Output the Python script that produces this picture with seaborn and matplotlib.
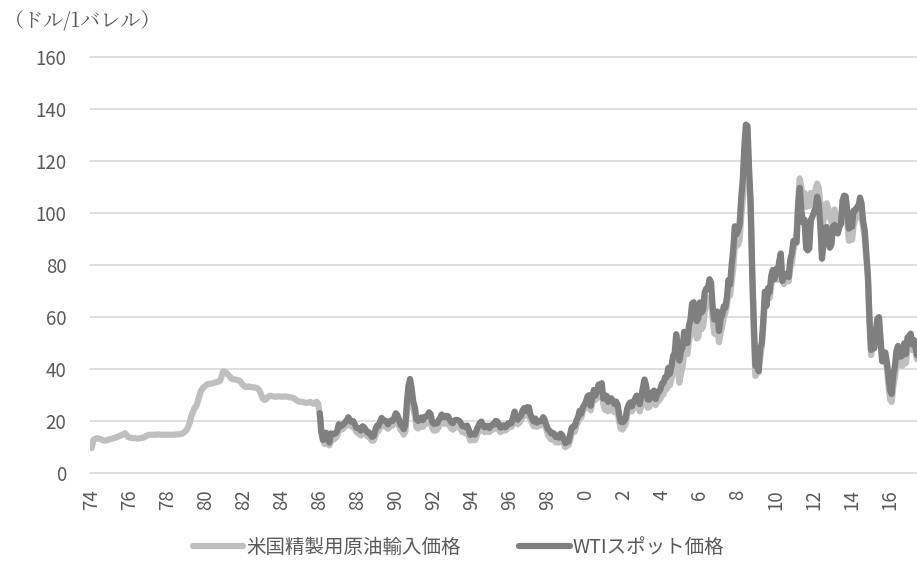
import numpy as np
import pandas as pd
import matplotlib
matplotlib.use("Agg")
import matplotlib.pyplot as plt
import seaborn as sns

# ---- data (monthly, US$/barrel) ----
series_names = ["米国精製用原油輸入価格", "WTIスポット価格"]
unit_label = "（ドル/1バレル）"

# US refiner acquisition cost of imported crude, Jan 1974 - Jun 2017
imported_rows = [
    [9.5, 12.5, 13.0, 13.2, 13.2, 13.0, 12.8, 12.5, 12.3, 12.4, 12.6, 12.8],  # 1974
    [13.0, 13.1, 13.3, 13.5, 13.7, 14.0, 14.2, 14.5, 14.8, 15.2, 14.5, 13.7],  # 1975
    [13.5, 13.4, 13.3, 13.3, 13.2, 13.1, 13.2, 13.3, 13.4, 13.6, 14.0, 14.3],  # 1976
    [14.5, 14.6, 14.6, 14.6, 14.6, 14.6, 14.7, 14.7, 14.6, 14.6, 14.6, 14.6],  # 1977
    [14.6, 14.6, 14.6, 14.6, 14.6, 14.7, 14.7, 14.8, 14.9, 15.0, 15.3, 15.9],  # 1978
    [16.5, 17.8, 19.5, 22.0, 23.5, 25.0, 25.5, 27.5, 29.5, 31.5, 32.5, 33.0],  # 1979
    [33.5, 34.0, 34.2, 34.2, 34.3, 34.5, 34.7, 34.8, 35.0, 35.3, 37.0, 39.0],  # 1980
    [38.8, 38.4, 37.8, 37.0, 36.3, 36.0, 35.9, 35.8, 35.6, 35.5, 35.0, 34.0],  # 1981
    [33.5, 33.0, 33.0, 33.2, 33.0, 32.9, 32.8, 32.8, 32.6, 32.3, 31.5, 30.0],  # 1982
    [28.5, 28.0, 28.2, 29.0, 29.5, 29.6, 29.4, 29.3, 29.2, 29.3, 29.4, 29.3],  # 1983
    [29.2, 29.3, 29.3, 29.3, 29.2, 29.0, 29.0, 28.8, 28.5, 28.0, 27.6, 27.3],  # 1984
    [27.3, 27.2, 27.0, 26.9, 26.9, 27.0, 27.2, 27.0, 26.5, 26.8, 27.3, 26.5],  # 1985
    [22.0, 16.0, 12.5, 11.0, 12.0, 11.5, 10.5, 12.0, 12.8, 12.8, 13.5, 14.2],  # 1986
    [16.5, 16.8, 16.6, 17.2, 17.8, 18.3, 19.2, 18.5, 17.8, 17.8, 17.0, 15.8],  # 1987
    [15.2, 14.8, 14.3, 15.3, 15.4, 15.0, 14.0, 13.9, 13.0, 12.3, 12.4, 14.0],  # 1988
    [15.8, 16.0, 17.4, 18.8, 18.3, 17.8, 17.6, 16.9, 17.5, 18.3, 18.2, 19.0],  # 1989
    [20.5, 19.8, 18.2, 16.5, 15.8, 14.6, 15.8, 23.5, 29.5, 33.2, 30.0, 25.0],  # 1990
    [22.0, 17.5, 17.0, 18.0, 18.4, 17.6, 18.6, 18.8, 19.2, 20.6, 19.8, 17.2],  # 1991
    [16.2, 16.2, 16.5, 17.6, 18.6, 19.6, 19.5, 18.8, 19.2, 19.2, 18.0, 17.0],  # 1992
    [16.6, 17.2, 17.6, 17.6, 17.6, 16.8, 15.6, 15.6, 15.2, 15.8, 14.2, 12.4],  # 1993
    [12.6, 12.6, 12.6, 14.2, 15.6, 16.6, 17.2, 16.2, 15.6, 15.8, 16.2, 15.6],  # 1994
    [16.2, 16.6, 16.8, 17.6, 17.6, 16.6, 15.6, 16.2, 16.6, 16.2, 16.6, 17.6],  # 1995
    [17.6, 17.6, 19.4, 21.0, 19.6, 18.6, 19.2, 20.0, 21.6, 23.0, 22.0, 23.0],  # 1996
    [22.8, 20.6, 19.0, 17.8, 19.0, 17.6, 18.0, 18.4, 18.2, 19.6, 18.6, 16.8],  # 1997
    [14.6, 13.6, 12.8, 13.0, 12.6, 11.6, 12.0, 11.6, 12.8, 12.6, 11.2, 9.8],   # 1998
    [10.6, 10.6, 12.6, 15.2, 15.8, 15.8, 18.2, 19.4, 21.8, 21.2, 23.6, 24.6],  # 1999
    [25.0, 27.2, 28.0, 24.0, 26.8, 29.2, 28.0, 28.8, 31.0, 31.0, 31.8, 26.2],  # 2000
    [24.2, 25.2, 23.6, 24.2, 25.2, 24.0, 23.2, 24.2, 23.6, 19.6, 17.0, 16.6],  # 2001
    [17.6, 18.6, 22.2, 24.2, 24.6, 23.6, 24.6, 25.6, 26.6, 26.6, 23.6, 25.6],  # 2002
    [29.0, 31.6, 29.6, 25.0, 25.2, 27.2, 27.6, 28.6, 26.0, 27.6, 27.6, 28.6],  # 2003
    [29.6, 30.2, 32.2, 32.2, 35.6, 33.6, 36.2, 39.2, 40.2, 44.6, 40.2, 34.6],  # 2004
    [38.2, 40.6, 46.2, 47.2, 45.6, 50.6, 53.2, 57.6, 58.2, 55.6, 51.6, 52.2],  # 2005
    [57.6, 55.2, 56.2, 62.2, 64.2, 64.6, 67.2, 67.2, 59.2, 53.6, 53.2, 55.6],  # 2006
    [50.2, 53.6, 56.2, 59.6, 61.6, 64.6, 69.2, 68.2, 73.6, 78.6, 87.6, 87.2],  # 2007
    [87.6, 89.6, 98.2, 105.2, 118.2, 127.2, 129.2, 112.2, 99.6, 75.6, 52.6, 37.2],  # 2008
    [38.2, 38.6, 44.2, 48.6, 56.2, 66.6, 64.6, 70.2, 67.2, 72.2, 75.2, 74.2],  # 2009
    [75.6, 74.2, 77.2, 81.2, 74.2, 72.6, 73.6, 74.2, 73.6, 78.6, 80.6, 85.6],  # 2010
    [88.2, 93.2, 105.2, 113.2, 109.6, 105.6, 107.6, 102.2, 104.2, 102.6, 107.6, 104.2],  # 2011
    [105.2, 109.2, 111.2, 109.6, 103.2, 93.0, 97.0, 103.0, 103.6, 101.6, 98.2, 96.2],  # 2012
    [97.2, 101.2, 97.6, 96.2, 96.2, 95.6, 99.6, 101.6, 101.6, 96.6, 89.2, 89.6],  # 2013
    [89.6, 95.2, 97.2, 98.6, 99.2, 101.6, 98.6, 94.6, 90.2, 82.6, 75.6, 57.6],  # 2014
    [45.2, 48.6, 49.2, 53.2, 57.6, 58.2, 51.2, 43.2, 42.6, 44.2, 40.2, 33.6],  # 2015
    [28.2, 27.2, 33.2, 36.2, 42.2, 44.6, 41.6, 41.2, 41.2, 45.2, 42.2, 47.6],  # 2016
    [50.2, 50.6, 47.2, 48.6, 46.6, 43.6],                                      # 2017
]

# WTI spot price, Jan 1986 - Jun 2017
wti_rows = [
    [22.93, 15.46, 12.61, 12.84, 15.38, 13.43, 11.59, 15.10, 14.87, 14.90, 15.22, 16.11],  # 1986
    [18.65, 17.75, 18.30, 18.68, 19.44, 20.07, 21.34, 20.31, 19.53, 19.86, 18.85, 17.28],  # 1987
    [17.13, 16.80, 16.20, 17.86, 17.42, 16.53, 15.50, 15.52, 14.54, 13.77, 14.14, 16.38],  # 1988
    [18.02, 17.94, 19.48, 21.07, 20.12, 20.05, 19.78, 18.58, 19.59, 20.10, 19.86, 21.10],  # 1989
    [22.86, 22.11, 20.39, 18.43, 18.20, 16.70, 18.45, 27.31, 33.51, 36.04, 32.33, 27.28],  # 1990
    [25.23, 20.48, 19.90, 20.83, 21.23, 20.19, 21.40, 21.69, 21.89, 23.23, 22.46, 19.50],  # 1991
    [18.79, 19.01, 18.92, 20.23, 20.98, 22.39, 21.78, 21.34, 21.88, 21.69, 20.34, 19.41],  # 1992
    [19.03, 20.09, 20.32, 20.25, 19.95, 19.09, 17.89, 18.01, 17.50, 18.15, 16.61, 14.52],  # 1993
    [15.03, 14.78, 14.68, 16.42, 17.89, 19.06, 19.66, 18.38, 17.45, 17.72, 18.07, 17.16],  # 1994
    [18.04, 18.57, 18.54, 19.90, 19.74, 18.45, 17.33, 18.02, 18.23, 17.43, 17.99, 19.03],  # 1995
    [18.85, 19.09, 21.33, 23.50, 21.17, 20.42, 21.30, 21.90, 23.97, 24.88, 23.71, 25.23],  # 1996
    [25.13, 22.18, 20.97, 19.70, 20.82, 19.26, 19.66, 19.95, 19.80, 21.33, 20.19, 18.33],  # 1997
    [16.72, 16.06, 15.12, 15.35, 14.91, 13.72, 14.17, 13.47, 15.03, 14.46, 13.00, 11.35],  # 1998
    [12.52, 12.01, 14.68, 17.31, 17.72, 17.92, 20.10, 21.28, 23.80, 22.69, 25.00, 26.10],  # 1999
    [27.26, 29.37, 29.84, 25.72, 28.79, 31.82, 29.70, 31.26, 33.88, 33.11, 34.42, 28.44],  # 2000
    [29.59, 29.61, 27.24, 27.49, 28.63, 27.60, 26.43, 27.37, 26.20, 22.17, 19.64, 19.39],  # 2001
    [19.72, 20.72, 24.53, 26.18, 27.04, 25.52, 26.97, 28.39, 29.66, 28.84, 26.35, 29.46],  # 2002
    [32.95, 35.83, 33.51, 28.17, 28.11, 30.66, 30.75, 31.57, 28.31, 30.34, 31.11, 32.13],  # 2003
    [34.31, 34.69, 36.74, 36.75, 40.28, 38.03, 40.78, 44.90, 45.94, 53.28, 48.47, 43.15],  # 2004
    [46.84, 48.15, 54.19, 52.98, 49.83, 56.35, 59.00, 64.99, 65.59, 62.26, 58.32, 59.41],  # 2005
    [65.49, 61.63, 62.69, 69.44, 70.84, 70.95, 74.41, 73.04, 63.80, 58.89, 59.08, 61.96],  # 2006
    [54.51, 59.28, 60.44, 63.98, 63.45, 67.49, 74.12, 72.36, 79.92, 85.80, 94.77, 91.69],  # 2007
    [92.97, 95.39, 105.45, 112.58, 125.40, 133.88, 133.37, 116.67, 104.11, 76.61, 57.31, 41.12],  # 2008
    [41.71, 39.09, 47.94, 49.65, 59.03, 69.64, 64.15, 71.05, 69.41, 75.72, 77.99, 74.47],  # 2009
    [78.33, 76.39, 81.20, 84.29, 73.74, 75.34, 76.32, 76.60, 75.24, 81.89, 84.25, 89.15],  # 2010
    [89.17, 88.58, 102.86, 109.53, 100.90, 96.26, 97.30, 86.33, 85.52, 86.32, 97.16, 98.56],  # 2011
    [100.27, 102.20, 106.16, 103.32, 94.66, 82.30, 87.90, 94.13, 94.51, 89.49, 86.53, 87.86],  # 2012
    [94.76, 95.31, 92.94, 92.02, 94.51, 95.77, 104.67, 106.57, 106.29, 100.54, 93.86, 97.63],  # 2013
    [94.62, 100.82, 100.80, 102.07, 102.18, 105.79, 103.59, 96.54, 93.21, 84.40, 75.79, 59.29],  # 2014
    [47.22, 50.58, 47.82, 54.45, 59.27, 59.82, 50.90, 42.87, 45.48, 46.22, 42.44, 37.19],  # 2015
    [31.68, 30.32, 37.55, 40.75, 46.71, 48.76, 44.65, 44.72, 45.18, 49.78, 45.66, 51.97],  # 2016
    [52.50, 53.47, 49.33, 51.06, 48.48, 45.18],                                            # 2017
]

tick_labels = ["74", "76", "78", "80", "82", "84", "86", "88", "90", "92", "94", "96",
               "98", "0", "2", "4", "6", "8", "10", "12", "14", "16"]
y_ticks = [0, 20, 40, 60, 80, 100, 120, 140, 160]

wti_start_month = 144  # Jan 1986 counted from Jan 1974

# ---- build tables ----
imported = [v for row in imported_rows for v in row]
wti = [v for row in wti_rows for v in row]
df_imp = pd.DataFrame({"month": np.arange(len(imported)), "price": imported})
df_wti = pd.DataFrame({"month": np.arange(wti_start_month, wti_start_month + len(wti)), "price": wti})

sns.set_theme(style="white")
plt.rcParams["font.family"] = ["Noto Sans CJK JP", "DejaVu Sans"]

W, H = 917, 561
fig = plt.figure(figsize=(W / 100, H / 100), dpi=100)
left_px, right_px, top_px, bot_px = 90, 917, 56.7, 472.7
ax = fig.add_axes([left_px / W, 1 - bot_px / H, (right_px - left_px) / W, (bot_px - top_px) / H])

light = "#BFBFBF"
dark = "#7F7F7F"
text_col = "#595959"

sns.lineplot(data=df_imp, x="month", y="price", ax=ax, color=light, linewidth=4.5,
             label=series_names[0], solid_joinstyle="round", solid_capstyle="round")
sns.lineplot(data=df_wti, x="month", y="price", ax=ax, color=dark, linewidth=4.5,
             label=series_names[1], solid_joinstyle="round", solid_capstyle="round")

ax.set_xlim(-1.07, 521)
ax.set_ylim(0, 160)
ax.set_yticks(y_ticks)
ax.set_xticks(np.arange(len(tick_labels)) * 24)
ax.set_xticklabels(tick_labels, rotation=90)
ax.grid(axis="y", color="#D9D9D9", linewidth=1.2)
ax.grid(axis="x", visible=False)
for gl in ax.get_ygridlines():
    gl.set_clip_on(False)
for s in ax.spines.values():
    s.set_visible(False)
ax.set_xlabel("")
ax.set_ylabel("")
ax.tick_params(axis="y", length=0, pad=17, labelsize=13.5, labelcolor=text_col)
ax.tick_params(axis="x", length=0, pad=12, labelsize=13.5, labelcolor=text_col)
ax.set_axisbelow(True)

fig.text(0.004, 1 - 21 / H, unit_label, ha="left", va="center", fontsize=14.5, color=text_col,
         family=["Noto Serif CJK JP", "Noto Sans CJK JP", "DejaVu Sans"])

handles, labels = ax.get_legend_handles_labels()
ax.get_legend().remove()
fig.legend(handles, labels, loc="center", bbox_to_anchor=(0.5, 0.024), ncol=2, frameon=False,
           handlelength=2.6, handletextpad=0.15, columnspacing=3.0, fontsize=14,
           labelcolor=text_col)

fig.savefig("out.png", dpi=100)
